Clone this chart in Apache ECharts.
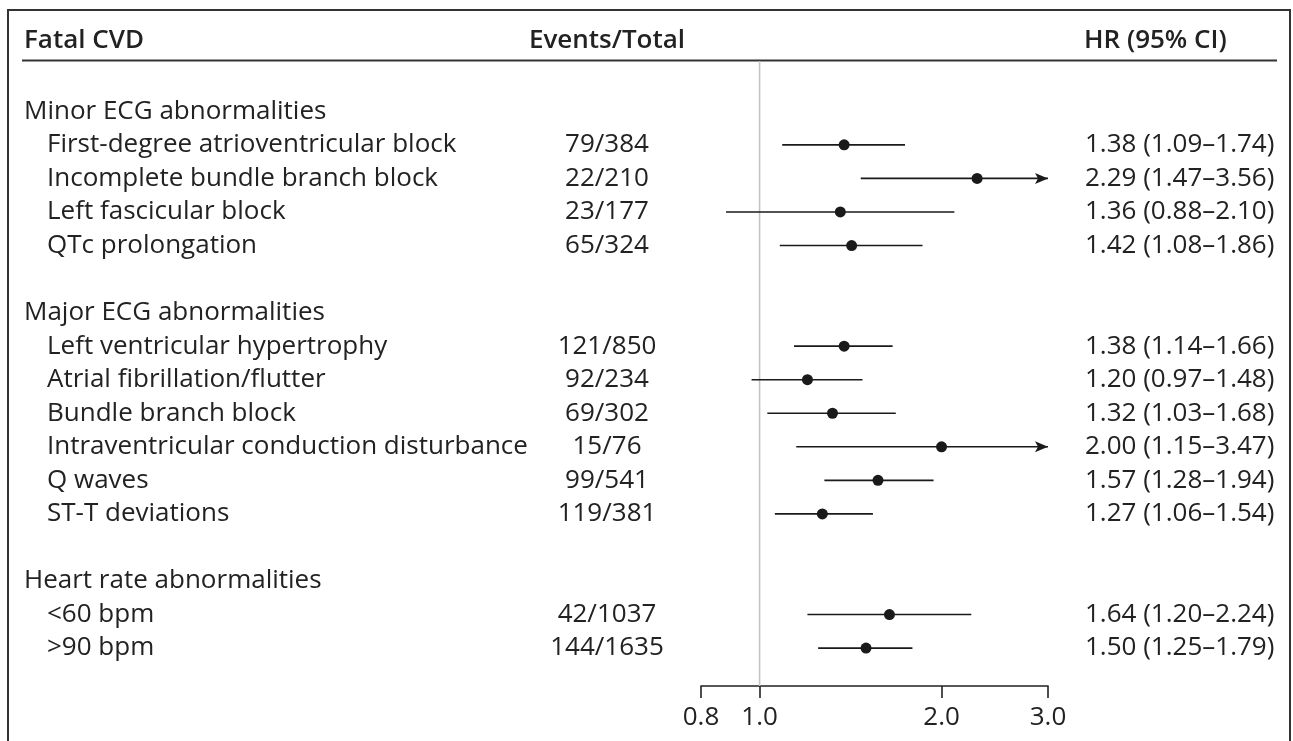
<!DOCTYPE html>
<html>
<head>
<meta charset="utf-8">
<script src="https://cdn.jsdelivr.net/npm/echarts@6/dist/echarts.min.js"></script>
<style>
html,body{margin:0;padding:0;background:#fff;}
#chart{width:1293px;height:741px;}
</style>
</head>
<body>
<div id="chart"></div>
<script>
// ---- data ----
const headers = ['Fatal CVD', 'Events/Total', 'HR (95% CI)'];
const groups = ['Minor ECG abnormalities', 'Major ECG abnormalities', 'Heart rate abnormalities'];
const groupRows = [0, 6, 14];
const items = [
  'First-degree atrioventricular block', 'Incomplete bundle branch block', 'Left fascicular block', 'QTc prolongation',
  'Left ventricular hypertrophy', 'Atrial fibrillation/flutter', 'Bundle branch block', 'Intraventricular conduction disturbance', 'Q waves', 'ST-T deviations',
  '<60 bpm', '>90 bpm'
];
const itemRows = [1, 2, 3, 4, 7, 8, 9, 10, 11, 12, 15, 16];
const events = ['79/384', '22/210', '23/177', '65/324', '121/850', '92/234', '69/302', '15/76', '99/541', '119/381', '42/1037', '144/1635'];
const hr = [1.38, 2.29, 1.36, 1.42, 1.38, 1.20, 1.32, 2.00, 1.57, 1.27, 1.64, 1.50];
const ciLow = [1.09, 1.47, 0.88, 1.08, 1.14, 0.97, 1.03, 1.15, 1.28, 1.06, 1.20, 1.25];
const ciHigh = [1.74, 3.56, 2.10, 1.86, 1.66, 1.48, 1.68, 3.47, 1.94, 1.54, 2.24, 1.79];
const xTicks = [0.8, 1.0, 2.0, 3.0];
const refValue = 1.0;

// ---- layout constants ----
const FONT = '"Open Sans", "Noto Sans", sans-serif';
const FS = 26;
const TXT = '#222';
const xMin = xTicks[0], xMax = xTicks[xTicks.length - 1];
const yTop = -1.5, yBottom = 17.13, yHeader = -2.12;

const fmt = v => v.toFixed(2);
const hrText = hr.map((h, i) => fmt(h) + ' (' + fmt(ciLow[i]) + '\u2013' + fmt(ciHigh[i]) + ')');

function textSeries(data, getText, x, align, weight) {
  return {
    type: 'custom',
    silent: true,
    data: data,
    encode: {x: 0, y: 1},
    renderItem: function (params, api) {
      const y = api.coord([refValue, api.value(1)])[1];
      return {
        type: 'text',
        style: {
          x: x, y: y,
          text: getText(params.dataIndex),
          fill: TXT,
          font: (weight || 'normal') + ' ' + FS + 'px ' + FONT,
          align: align,
          verticalAlign: 'middle'
        }
      };
    }
  };
}

const chart = echarts.init(document.getElementById('chart'), null, {renderer: 'canvas'});
chart.setOption({
  animation: false,
  backgroundColor: '#fff',
  grid: {left: 701, right: 245, top: 61, bottom: 55, containLabel: false},
  xAxis: {
    type: 'log',
    logBase: 10,
    min: xMin,
    max: xMax,
    position: 'bottom',
    axisLine: {show: true, onZero: false, lineStyle: {color: TXT, width: 1.6}},
    axisTick: {show: true, inside: false, length: 12, customValues: xTicks, lineStyle: {color: TXT, width: 1.6}},
    axisLabel: {show: true, customValues: xTicks, margin: 19, color: TXT, fontSize: FS, fontFamily: FONT,
      formatter: v => Number(v).toFixed(1)},
    splitLine: {show: false},
    minorTick: {show: false}
  },
  yAxis: {
    type: 'value', min: yTop, max: yBottom, inverse: true, show: false,
    splitLine: {show: false}
  },
  graphic: [
    {type: 'rect', shape: {x: 8, y: 10, width: 1282, height: 760}, style: {fill: null, stroke: '#333', lineWidth: 2}, silent: true},
    {type: 'line', shape: {x1: 22, y1: 60.5, x2: 1277, y2: 60.5}, style: {stroke: '#333', lineWidth: 2}, silent: true}
  ],
  series: [
    {
      type: 'line',
      silent: true,
      symbol: 'none',
      data: [[refValue, yTop], [refValue, yBottom]],
      lineStyle: {color: '#c4c4c4', width: 1.6},
      z: 1
    },
    textSeries([[refValue, yHeader]], () => headers[0], 24, 'left', '600'),
    textSeries([[refValue, yHeader]], () => headers[1], 607, 'center', '600'),
    textSeries([[refValue, yHeader]], () => headers[2], 1084, 'left', '600'),
    textSeries(groupRows.map(r => [refValue, r]), i => groups[i], 24, 'left'),
    textSeries(itemRows.map(r => [refValue, r]), i => items[i], 47, 'left'),
    textSeries(itemRows.map(r => [refValue, r]), i => events[i], 607, 'center'),
    textSeries(itemRows.map(r => [refValue, r]), i => hrText[i], 1085, 'left'),
    {
      type: 'custom',
      silent: true,
      z: 5,
      data: hr.map((h, i) => [ciLow[i], ciHigh[i], h, itemRows[i]]),
      encode: {x: [0, 1, 2], y: 3},
      renderItem: function (params, api) {
        const lo = api.value(0), hi = api.value(1), h = api.value(2), r = api.value(3);
        const p1 = api.coord([Math.max(lo, xMin), r]);
        const p2 = api.coord([Math.min(hi, xMax), r]);
        const pc = api.coord([h, r]);
        const children = [
          {type: 'line', shape: {x1: p1[0], y1: p1[1], x2: p2[0], y2: p2[1]}, style: {stroke: '#1a1a1a', lineWidth: 1.6}},
          {type: 'circle', shape: {cx: pc[0], cy: pc[1], r: 5.5}, style: {fill: '#1a1a1a'}}
        ];
        if (hi > xMax) {
          const x = p2[0], y = p2[1];
          children.push({type: 'polygon', shape: {points: [[x, y], [x - 13, y - 5.5], [x - 10, y], [x - 13, y + 5.5]]}, style: {fill: '#1a1a1a'}});
        }
        return {type: 'group', children: children};
      }
    }
  ]
});
</script>
</body>
</html>
